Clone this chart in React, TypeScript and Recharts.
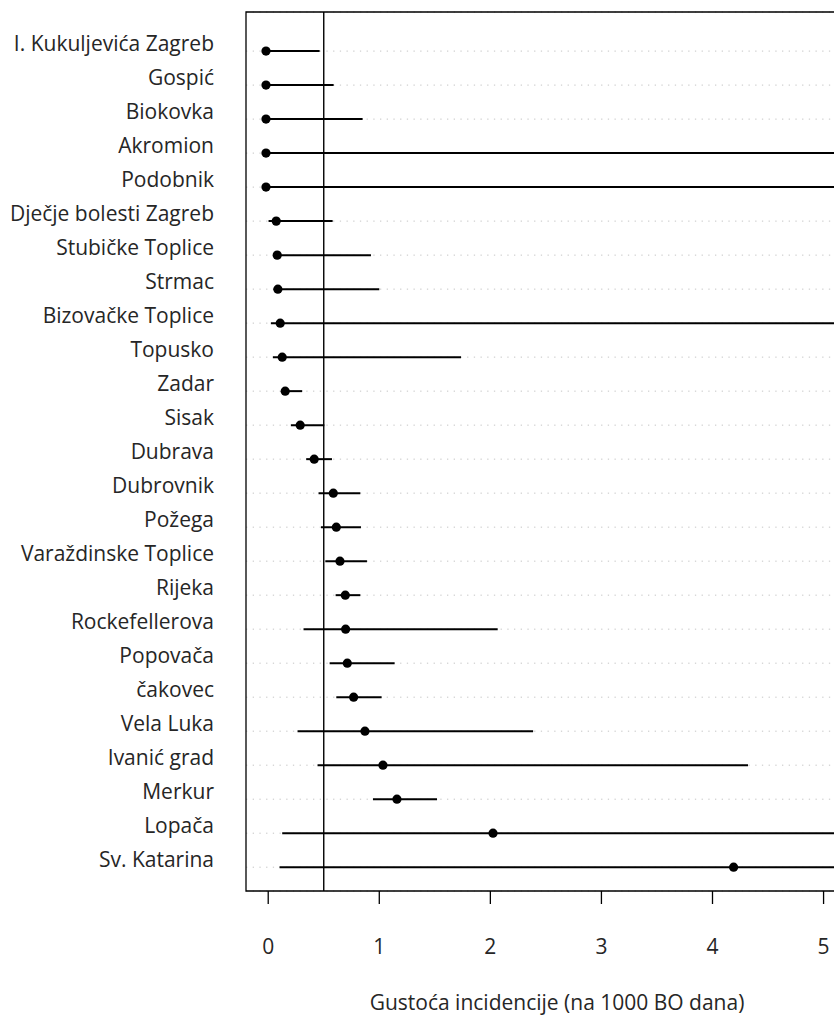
import {
  CartesianGrid,
  ErrorBar,
  ReferenceArea,
  ReferenceLine,
  Scatter,
  ScatterChart,
  XAxis,
  YAxis,
} from "recharts";

const hospitals = [
  "I. Kukuljevića Zagreb",
  "Gospić",
  "Biokovka",
  "Akromion",
  "Podobnik",
  "Dječje bolesti Zagreb",
  "Stubičke Toplice",
  "Strmac",
  "Bizovačke Toplice",
  "Topusko",
  "Zadar",
  "Sisak",
  "Dubrava",
  "Dubrovnik",
  "Požega",
  "Varaždinske Toplice",
  "Rijeka",
  "Rockefellerova",
  "Popovača",
  "čakovec",
  "Vela Luka",
  "Ivanić grad",
  "Merkur",
  "Lopača",
  "Sv. Katarina",
];

// incidence density and interval ends
const rate = [
  -0.02, -0.02, -0.02, -0.02, -0.02, 0.072, 0.081, 0.087, 0.108, 0.126, 0.153,
  0.288, 0.414, 0.586, 0.613, 0.646, 0.694, 0.697, 0.712, 0.769, 0.871, 1.033,
  1.159, 2.024, 4.19,
];
const ciLow = [
  -0.02, -0.02, -0.02, -0.02, -0.02, 0.003, 0.07, 0.05, 0.024, 0.042, 0.14,
  0.204, 0.342, 0.453, 0.475, 0.514, 0.607, 0.318, 0.553, 0.613, 0.264, 0.444,
  0.943, 0.126, 0.102,
];
const ciHigh = [
  0.463, 0.589, 0.85, 7, 7, 0.58, 0.925, 1.0, 7, 1.736, 0.306, 0.505, 0.574,
  0.829, 0.835, 0.889, 0.829, 2.066, 1.138, 1.021, 2.385, 4.32, 1.52, 7, 7,
];
const xTicks = [0, 1, 2, 3, 4, 5];

const rows = hospitals.map((_, i) => i);
const data = hospitals.map((name, i) => ({
  row: i,
  name,
  rate: rate[i],
  ci: [rate[i] - ciLow[i], ciHigh[i] - rate[i]],
}));

const FONT = "'Open Sans', sans-serif";
const INK = "#262626";

const RowLabel = (props: any) => {
  const { x, y, payload } = props;
  return (
    <text x={x} y={y} textAnchor="end" fontFamily={FONT} fontSize={21} fill={INK}>
      {hospitals[payload.value]}
    </text>
  );
};

const Dot = (props: any) => <circle cx={props.cx} cy={props.cy} r={4.6} fill="#000" />;

export default function App() {
  return (
    <div
      style={{
        position: "absolute",
        left: 0,
        top: 0,
        width: 834,
        height: 1017,
        overflow: "hidden",
        background: "#fff",
      }}
    >
      <ScatterChart
        width={900}
        height={1017}
        margin={{ top: 12, right: 32, bottom: 66, left: 0 }}
      >
        <CartesianGrid
          horizontal
          vertical={false}
          stroke="#c4c4c4"
          strokeDasharray="1.3 5.4"
        />
        <XAxis
          type="number"
          dataKey="rate"
          domain={[-0.2, 5.4]}
          ticks={xTicks}
          allowDataOverflow
          axisLine={false}
          tickSize={13}
          tickMargin={35}
          height={60}
          tickLine={{ stroke: "#000", strokeWidth: 1.3 }}
          tick={{ fontFamily: FONT, fontSize: 21, fill: INK }}
        />
        <YAxis
          type="number"
          dataKey="row"
          domain={[-1.15, 24.7]}
          reversed
          ticks={rows}
          interval={0}
          allowDataOverflow
          width={246}
          axisLine={false}
          tickLine={false}
          tickSize={0}
          tickMargin={32}
          tick={<RowLabel />}
        />
        <ReferenceArea
          x1={-0.2}
          x2={5.4}
          y1={-1.15}
          y2={24.7}
          fill="none"
          stroke="#000"
          strokeWidth={1.3}
          ifOverflow="visible"
        />
        <ReferenceLine x={0.5} stroke="#000" strokeWidth={1.4} />
        <Scatter data={data} shape={<Dot />} isAnimationActive={false}>
          <ErrorBar
            dataKey="ci"
            direction="x"
            width={0}
            stroke="#000"
            strokeWidth={2}
          />
        </Scatter>
      </ScatterChart>
      <div
        style={{
          position: "absolute",
          left: 557,
          top: 988,
          transform: "translateX(-50%)",
          whiteSpace: "nowrap",
          fontFamily: FONT,
          fontSize: 21,
          color: INK,
        }}
      >
        Gustoća incidencije (na 1000 BO dana)
      </div>
    </div>
  );
}
